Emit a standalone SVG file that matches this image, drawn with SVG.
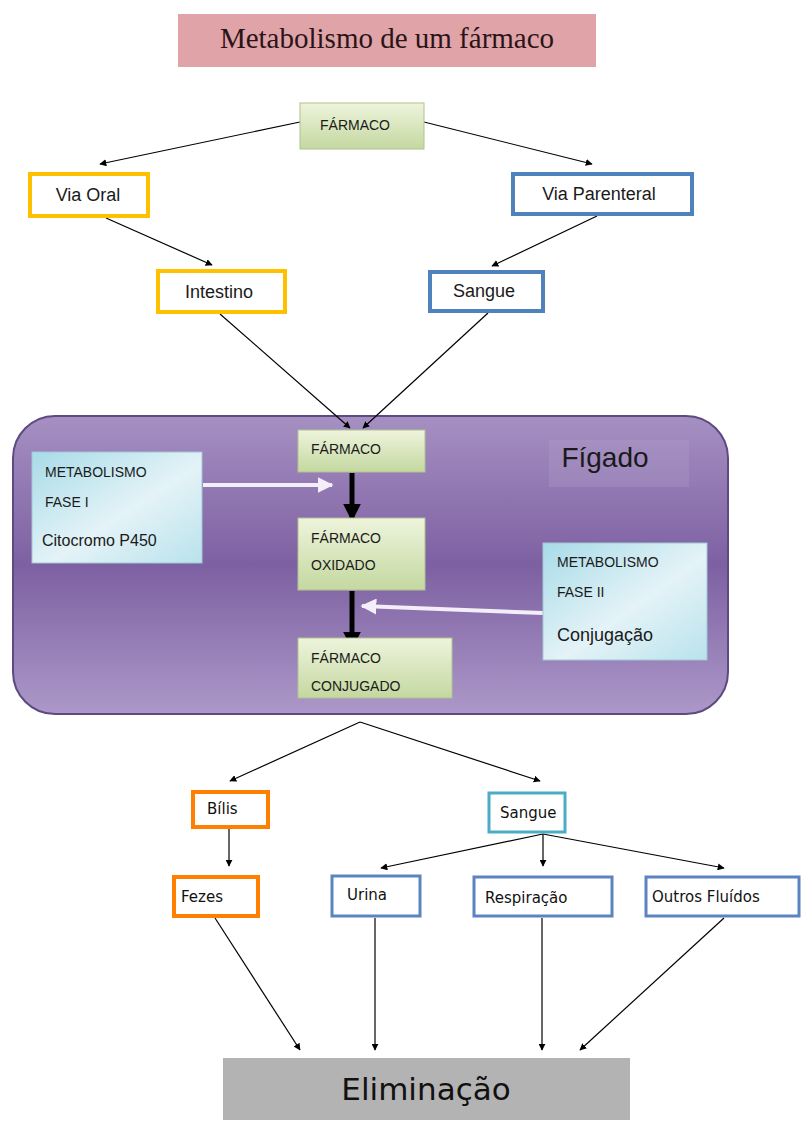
<svg xmlns="http://www.w3.org/2000/svg" width="801" height="1122" viewBox="0 0 801 1122">
<defs>
<marker id="ah" viewBox="0 0 10 10" refX="9" refY="5" markerWidth="7" markerHeight="7" orient="auto" markerUnits="userSpaceOnUse"><path d="M0,0 L10,5 L0,10 z" fill="#000"/></marker>
<marker id="ahw" viewBox="0 0 10 10" refX="9" refY="5" markerWidth="4" markerHeight="4" orient="auto"><path d="M0,0 L10,5 L0,10 z" fill="#f4eef8"/></marker>
<marker id="ahb" viewBox="0 0 10 10" refX="8" refY="5" markerWidth="3.6" markerHeight="3.6" orient="auto"><path d="M0,0 L10,5 L0,10 z" fill="#000"/></marker>
<linearGradient id="green" x1="0" y1="0" x2="0" y2="1"><stop offset="0" stop-color="#eef4dc"/><stop offset="1" stop-color="#c4d8a0"/></linearGradient>
<linearGradient id="liver" x1="0" y1="0" x2="0" y2="1"><stop offset="0" stop-color="#a690c2"/><stop offset="0.5" stop-color="#7d60a2"/><stop offset="1" stop-color="#ac98c8"/></linearGradient>
<linearGradient id="blue" x1="0" y1="0" x2="1" y2="1"><stop offset="0" stop-color="#a8dbe8"/><stop offset="0.55" stop-color="#e4f3f7"/><stop offset="1" stop-color="#b9e2ec"/></linearGradient>
<style>
.t{font-family:"Liberation Sans",Arial,sans-serif;fill:#1a1a1a}
.d{font-family:"DejaVu Sans",Verdana,sans-serif;fill:#111}
.s{font-size:14px}
.m{font-size:18px}
.g{fill:url(#green);stroke:#b0c290;stroke-width:1}
.yb{fill:#fff;stroke:#ffc000;stroke-width:4}
.bb{fill:#fff;stroke:#4f81bd;stroke-width:4}
.ob{fill:#fff;stroke:#ff7f00;stroke-width:4}
.cb{fill:#fff;stroke:#4bacc6;stroke-width:3}
.pb{fill:#fff;stroke:#5b84c0;stroke-width:3}
.lb{fill:url(#blue);stroke:#9fc8d4;stroke-width:1}
.c{stroke:#000;stroke-width:1.2;fill:none;marker-end:url(#ah)}
</style>
</defs>
<g id="title"><rect x="178" y="14" width="418" height="53" fill="#e0a3a7"/><text x="387" y="48" text-anchor="middle" font-family="Liberation Serif,serif" font-size="29" fill="#2a1418">Metabolismo de um fármaco</text></g>
<g id="liver"><rect x="13" y="416" width="715" height="298" rx="42" fill="url(#liver)" stroke="#5d4a80" stroke-width="2"/><rect x="549" y="440" width="140" height="47" fill="#b8a6d0" opacity="0.25"/><text x="605" y="467" text-anchor="middle" class="t" font-size="28" fill="#1a1428">Fígado</text></g>
<g id="connectors">
<line x1="300" y1="122" x2="100" y2="164" class="c"/>
<line x1="424" y1="122" x2="592" y2="164" class="c"/>
<line x1="106" y1="218" x2="212" y2="265" class="c"/>
<line x1="597" y1="216" x2="492" y2="266" class="c"/>
<line x1="220" y1="314" x2="350" y2="428" class="c"/>
<line x1="488" y1="313" x2="363" y2="428" class="c"/>
<line x1="352" y1="473" x2="352" y2="518" stroke="#000" stroke-width="5" marker-end="url(#ahb)"/>
<line x1="352" y1="591" x2="352" y2="646" stroke="#000" stroke-width="5" marker-end="url(#ahb)"/>
<line x1="203" y1="485" x2="332" y2="485" stroke="#f4eef8" stroke-width="4" marker-end="url(#ahw)"/>
<line x1="543" y1="613" x2="362" y2="606" stroke="#f4eef8" stroke-width="4" marker-end="url(#ahw)"/>
<line x1="360" y1="722" x2="230" y2="781" class="c"/>
<line x1="360" y1="722" x2="540" y2="781" class="c"/>
<line x1="229" y1="829" x2="229" y2="866" class="c"/>
<line x1="543" y1="834" x2="381" y2="868" class="c"/>
<line x1="543" y1="834" x2="543" y2="866" class="c"/>
<line x1="543" y1="834" x2="724" y2="868" class="c"/>
<line x1="215" y1="918" x2="300" y2="1050" class="c"/>
<line x1="375" y1="918" x2="375" y2="1050" class="c"/>
<line x1="542" y1="918" x2="542" y2="1050" class="c"/>
<line x1="724" y1="918" x2="580" y2="1050" class="c"/>
</g>
<g id="farmaco"><rect x="300" y="103" width="124" height="46" class="g"/><text x="355" y="130" text-anchor="middle" class="t s">FÁRMACO</text></g>
<g id="via-oral"><rect x="30" y="174" width="118" height="42" class="yb"/><text x="88" y="201" text-anchor="middle" class="t m">Via Oral</text></g>
<g id="via-parenteral"><rect x="513" y="174" width="179" height="40" class="bb"/><text x="599" y="200" text-anchor="middle" class="t m">Via Parenteral</text></g>
<g id="intestino"><rect x="158" y="271" width="127" height="41" class="yb"/><text x="219" y="298" text-anchor="middle" class="t m">Intestino</text></g>
<g id="sangue1"><rect x="430" y="272" width="113" height="39" class="bb"/><text x="484" y="297" text-anchor="middle" class="t m">Sangue</text></g>
<g id="farmaco-f"><rect x="298" y="430" width="127" height="42" class="g"/><text x="311" y="454" class="t s">FÁRMACO</text></g>
<g id="farmaco-ox"><rect x="298" y="518" width="127" height="72" class="g"/><text x="311" y="543" class="t s">FÁRMACO</text><text x="311" y="570" class="t s">OXIDADO</text></g>
<g id="farmaco-conj"><rect x="298" y="638" width="154" height="60" class="g"/><text x="311" y="663" class="t s">FÁRMACO</text><text x="311" y="691" class="t s">CONJUGADO</text></g>
<g id="fase1"><rect x="32" y="452" width="170" height="111" class="lb"/><text x="45" y="477" class="t s">METABOLISMO</text><text x="45" y="507" class="t s">FASE I</text><text x="42" y="546" class="t" font-size="16">Citocromo P450</text></g>
<g id="fase2"><rect x="543" y="543" width="164" height="117" class="lb"/><text x="557" y="567" class="t s">METABOLISMO</text><text x="557" y="597" class="t s">FASE II</text><text x="557" y="641" class="t m">Conjugação</text></g>
<g id="bilis"><rect x="193" y="792" width="75" height="35" class="ob"/><text x="207" y="814" class="d" font-size="15">Bílis</text></g>
<g id="sangue2"><rect x="489" y="793" width="76" height="39" class="cb"/><text x="500" y="818" class="d" font-size="15">Sangue</text></g>
<g id="fezes"><rect x="174" y="877" width="84" height="39" class="ob"/><text x="181" y="902" class="d" font-size="15">Fezes</text></g>
<g id="urina"><rect x="332" y="876" width="88" height="40" class="pb"/><text x="347" y="900" class="d" font-size="15">Urina</text></g>
<g id="respiracao"><rect x="474" y="877" width="138" height="39" class="pb"/><text x="485" y="903" class="d" font-size="15">Respiração</text></g>
<g id="outros"><rect x="646" y="877" width="153" height="39" class="pb"/><text x="652" y="902" class="d" font-size="15">Outros Fluídos</text></g>
<g id="eliminacao"><rect x="223" y="1058" width="407" height="62" fill="#b3b3b3"/><text x="426" y="1100" text-anchor="middle" class="d" font-size="31">Eliminação</text></g>
</svg>
